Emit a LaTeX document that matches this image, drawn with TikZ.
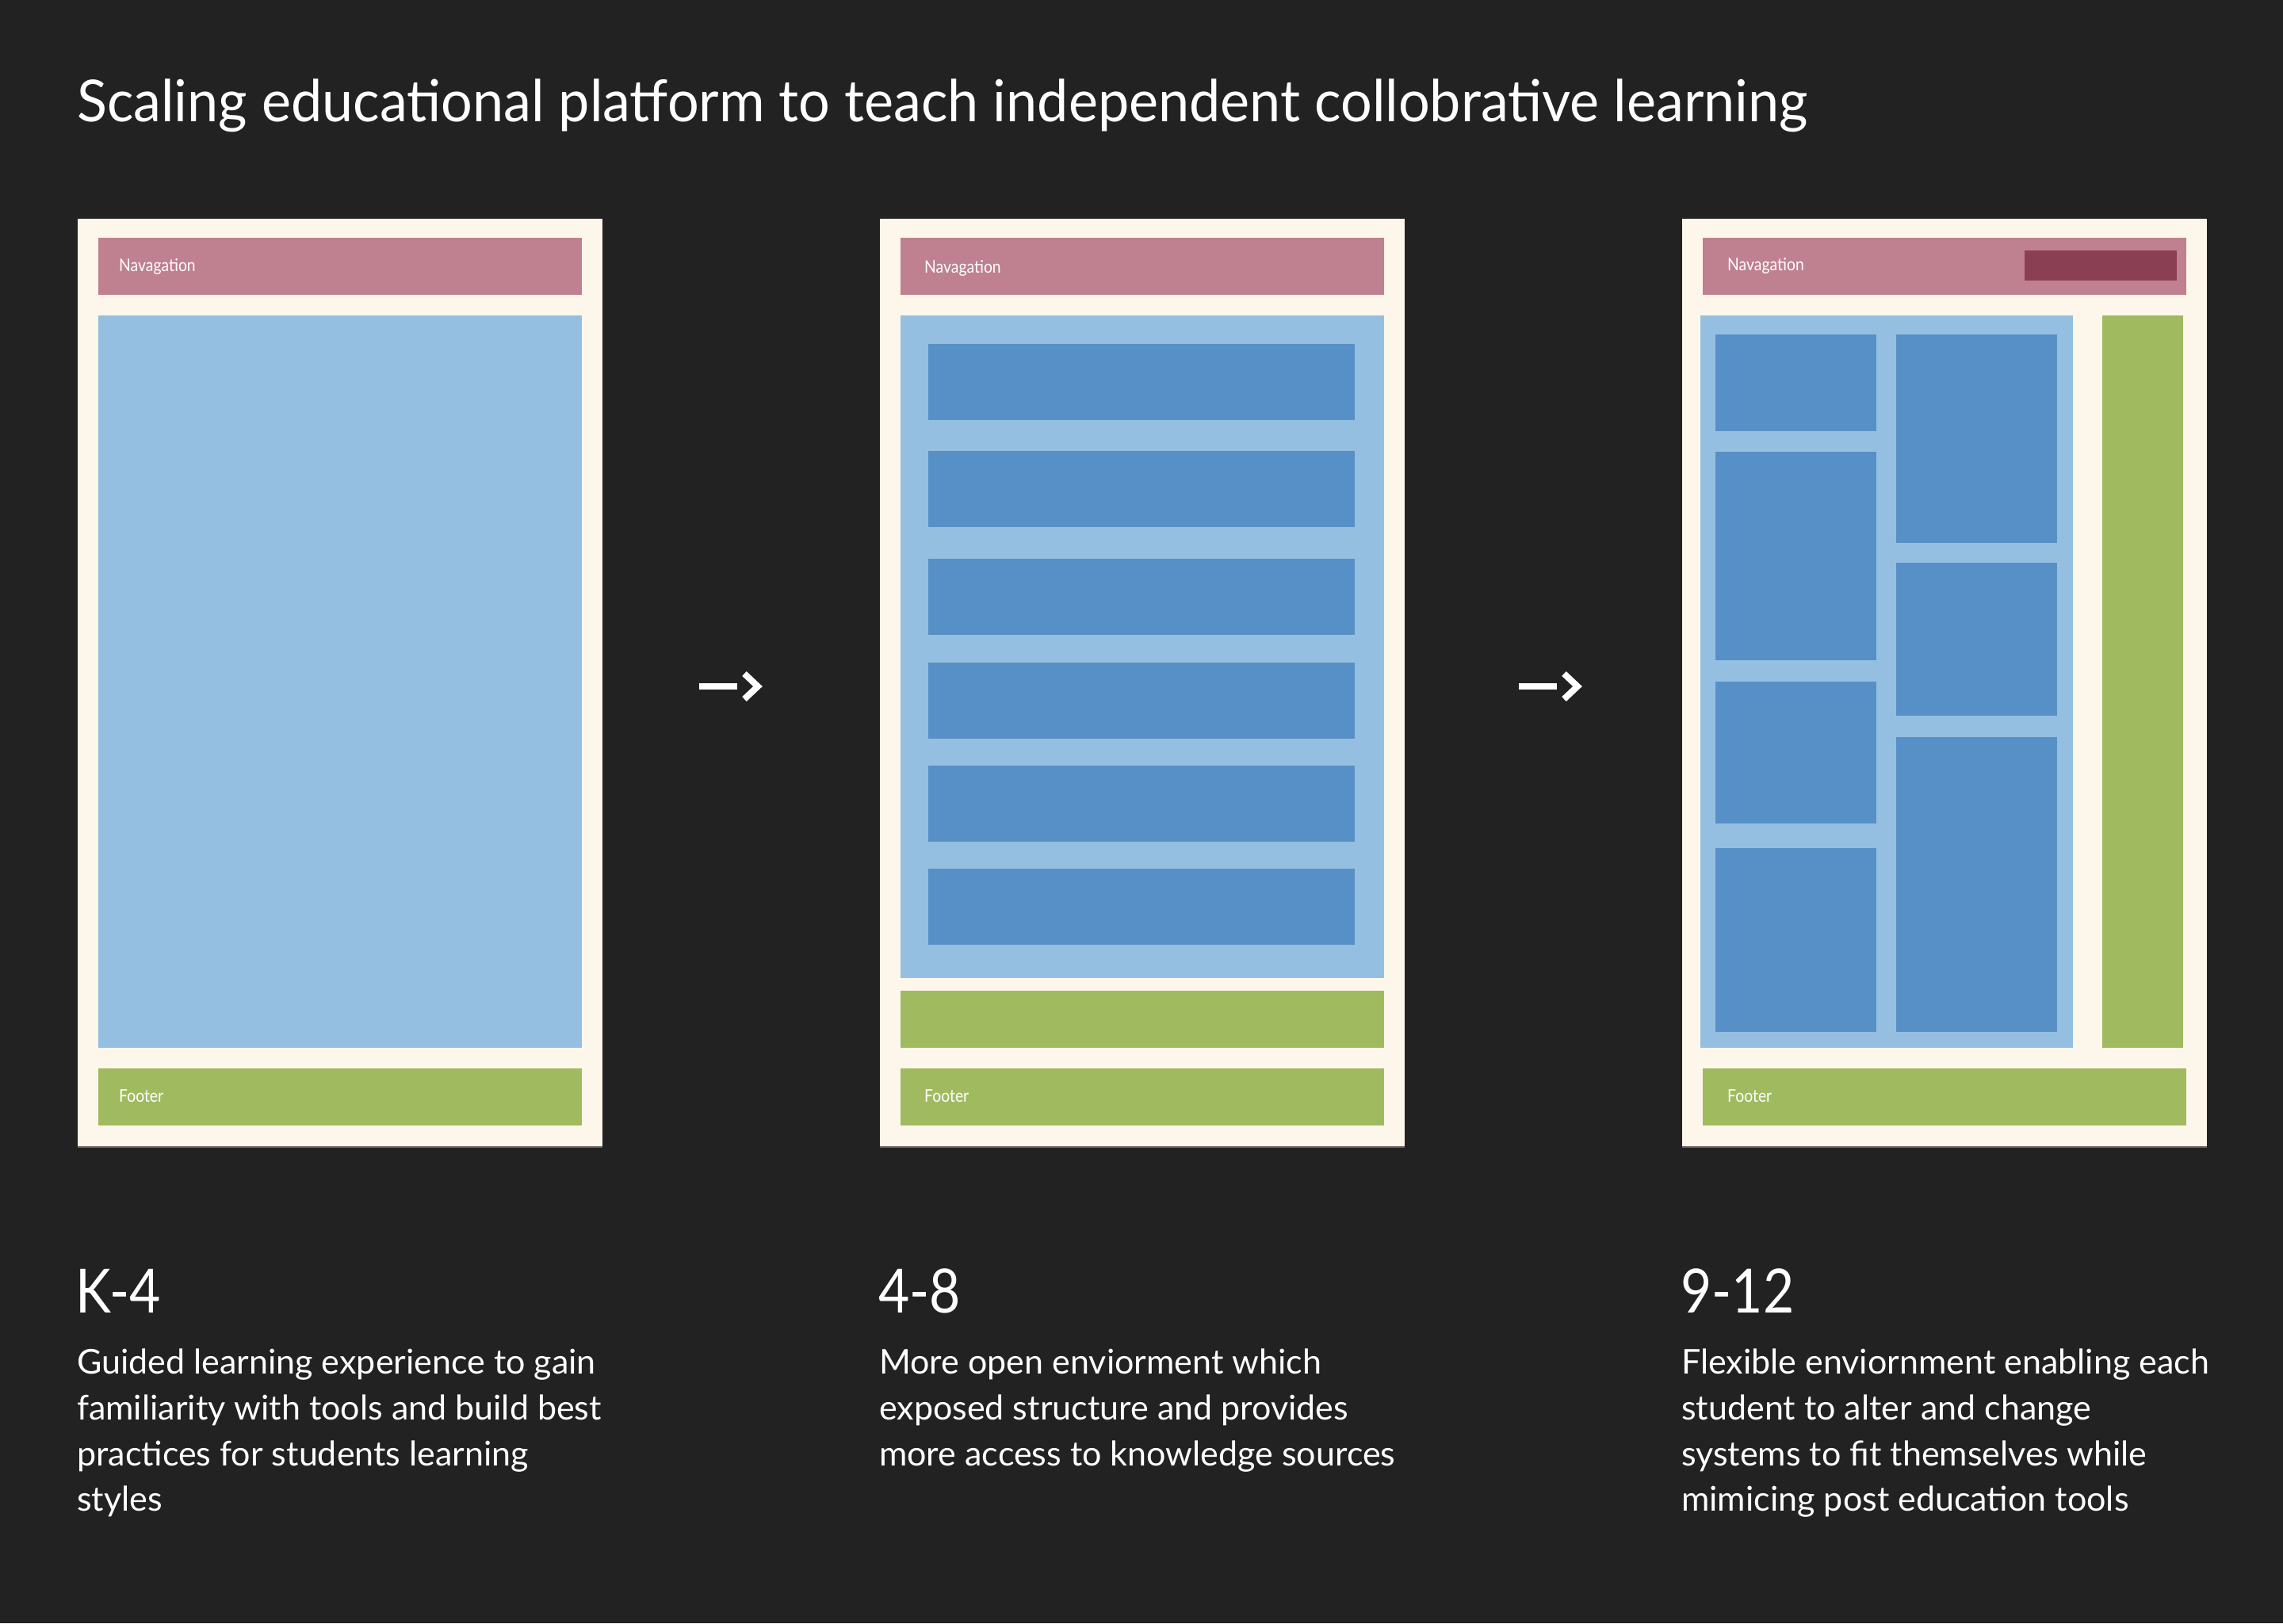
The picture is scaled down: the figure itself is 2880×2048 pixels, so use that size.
\documentclass[tikz,border=0pt]{standalone}
\usepackage{fontspec}
\setmainfont{Lato}[FakeStretch=0.88]
\newfontfamily\headfont{Lato}[FakeStretch=0.96]
\newfontfamily\copyfont{Lato}
\definecolor{bgdark}{RGB}{34,34,34}
\definecolor{paper}{RGB}{253,246,234}
\definecolor{navpink}{RGB}{191,128,143}
\definecolor{navdark}{RGB}{139,63,82}
\definecolor{paleblue}{RGB}{149,191,224}
\definecolor{tileblue}{RGB}{87,144,198}
\definecolor{leaf}{RGB}{160,186,96}
\definecolor{edge}{RGB}{120,114,106}
\tikzset{
  lbl/.style={anchor=base west, inner sep=0pt, text=white},
  titletext/.style={lbl, font=\headfont\fontsize{73}{88}\selectfont},
  stagetext/.style={lbl, font=\fontsize{77}{92}\selectfont},
  bodytext/.style={lbl, font=\copyfont\fontsize{43}{58}\selectfont},
  smalltext/.style={lbl, font=\fontsize{22}{26}\selectfont},
  arrowline/.style={draw=white, line width=8pt},
  chevron/.style={draw=white, line width=8pt, miter limit=10}
}
\begin{document}
\begin{tikzpicture}[x=1pt, y=-1pt]
% canvas
\fill[bgdark] (0,0) rectangle (2880,2048);
\useasboundingbox (0,0) rectangle (2880,2048);

% heading
\node[titletext] (title) at (97,153) {Scaling educational platform to teach independent collobrative learning};

% ---------- layout K-4 ----------
\fill[edge] (98,1446) rectangle (760,1448);
\fill[paper] (98,276) rectangle (760,1446);
\fill[navpink] (124,300) rectangle (734,372);
\fill[paleblue] (124,398) rectangle (734,1322);
\fill[leaf] (124,1348) rectangle (734,1420);
\node[smalltext] (navA) at (150,342) {Navagation};
\node[smalltext] (footA) at (150,1390) {Footer};

% ---------- layout 4-8 ----------
\fill[edge] (1110,1446) rectangle (1772,1448);
\fill[paper] (1110,276) rectangle (1772,1446);
\fill[navpink] (1136,300) rectangle (1746,372);
\fill[paleblue] (1136,398) rectangle (1746,1234);
\foreach \t/\b in {434/530, 569/665, 705/801, 836/932, 966/1062, 1096/1192}
  \fill[tileblue] (1171,\t) rectangle (1709,\b);
\fill[leaf] (1136,1250) rectangle (1746,1322);
\fill[leaf] (1136,1348) rectangle (1746,1420);
\node[smalltext] (navB) at (1166,344) {Navagation};
\node[smalltext] (footB) at (1166,1390) {Footer};

% ---------- layout 9-12 ----------
\fill[edge] (2122,1446) rectangle (2784,1448);
\fill[paper] (2122,276) rectangle (2784,1446);
\fill[navpink] (2148,300) rectangle (2758,372);
\fill[navdark] (2554,316) rectangle (2746,354);
\fill[paleblue] (2145,398) rectangle (2615,1322);
\foreach \t/\b in {422/544, 570/833, 860/1039, 1070/1302}
  \fill[tileblue] (2164,\t) rectangle (2367,\b);
\foreach \t/\b in {422/685, 710/903, 930/1302}
  \fill[tileblue] (2392,\t) rectangle (2595,\b);
\fill[leaf] (2652,398) rectangle (2754,1322);
\fill[leaf] (2148,1348) rectangle (2758,1420);
\node[smalltext] (navC) at (2179,341) {Navagation};
\node[smalltext] (footC) at (2179,1390) {Footer};

% ---------- arrows between layouts ----------
\coordinate (a1tail) at (882,866);
\coordinate (a1end) at (930,866);
\coordinate (a1up) at (939,850);
\coordinate (a1tip) at (956,866);
\coordinate (a1dn) at (939,882);
\path[arrowline] (a1tail) -- (a1end);
\path[chevron] (a1up) -- (a1tip) -- (a1dn);

\coordinate (a2tail) at (1916,866);
\coordinate (a2end) at (1964,866);
\coordinate (a2up) at (1973,850);
\coordinate (a2tip) at (1990,866);
\coordinate (a2dn) at (1973,882);
\path[arrowline] (a2tail) -- (a2end);
\path[chevron] (a2up) -- (a2tip) -- (a2dn);

% ---------- captions ----------
\node[stagetext] (stageA) at (95,1656) {K-4};
\node[bodytext] (capA1) at (97,1733) {Guided learning experience to gain};
\node[bodytext] (capA2) at (97,1791) {familiarity with tools and build best};
\node[bodytext] (capA3) at (97,1849) {practices for students learning};
\node[bodytext] (capA4) at (97,1906) {styles};

\node[stagetext] (stageB) at (1108,1656) {4-8};
\node[bodytext] (capB1) at (1109,1733) {More open enviorment which};
\node[bodytext] (capB2) at (1109,1791) {exposed structure and provides};
\node[bodytext] (capB3) at (1109,1849) {more access to knowledge sources};

\node[stagetext] (stageC) at (2120,1656) {9-12};
\node[bodytext] (capC1) at (2121,1733) {Flexible enviornment enabling each};
\node[bodytext] (capC2) at (2121,1791) {student to alter and change};
\node[bodytext] (capC3) at (2121,1849) {systems to fit themselves while};
\node[bodytext] (capC4) at (2121,1906) {mimicing post education tools};
\end{tikzpicture}
\end{document}
